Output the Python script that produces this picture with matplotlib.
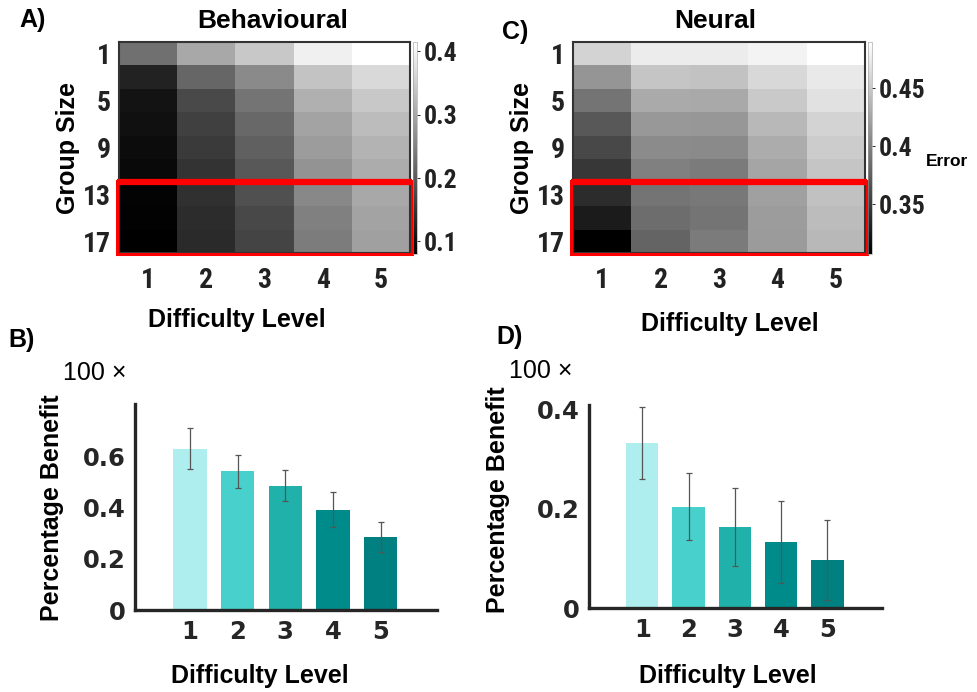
import numpy as np
import matplotlib
matplotlib.use("Agg")
import matplotlib.pyplot as plt
from matplotlib.patches import Rectangle
from matplotlib.colors import Normalize
from matplotlib import font_manager as fm
import matplotlib.cm as cm

# ---------------- data ----------------
group_sizes = [1, 3, 5, 7, 9, 11, 13, 15, 17]
group_tick_labels = ["1", "5", "9", "13", "17"]
difficulty = [1, 2, 3, 4, 5]

behav_error = np.array([
    [0.227, 0.301, 0.343, 0.395, 0.415],
    [0.125, 0.214, 0.261, 0.337, 0.364],
    [0.106, 0.177, 0.232, 0.311, 0.343],
    [0.101, 0.164, 0.217, 0.295, 0.327],
    [0.096, 0.156, 0.206, 0.285, 0.316],
    [0.093, 0.148, 0.196, 0.274, 0.306],
    [0.085, 0.143, 0.185, 0.259, 0.301],
    [0.083, 0.138, 0.175, 0.248, 0.295],
    [0.080, 0.135, 0.169, 0.243, 0.290],
])
behav_cbar_ticks = [0.1, 0.2, 0.3, 0.4]
behav_range = (0.08, 0.415)

neural_error = np.array([
    [0.459, 0.476, 0.476, 0.481, 0.490],
    [0.414, 0.448, 0.446, 0.462, 0.474],
    [0.390, 0.429, 0.428, 0.451, 0.468],
    [0.370, 0.416, 0.415, 0.439, 0.459],
    [0.359, 0.407, 0.406, 0.430, 0.453],
    [0.347, 0.399, 0.395, 0.425, 0.448],
    [0.339, 0.390, 0.393, 0.422, 0.445],
    [0.327, 0.385, 0.390, 0.419, 0.442],
    [0.307, 0.379, 0.395, 0.418, 0.439],
])
neural_cbar_ticks = [0.35, 0.4, 0.45]
neural_range = (0.307, 0.49)

behav_benefit = [0.631, 0.542, 0.487, 0.392, 0.286]
behav_benefit_err = [0.080, 0.066, 0.062, 0.069, 0.060]
neural_benefit = [0.333, 0.205, 0.164, 0.133, 0.097]
neural_benefit_err = [0.072, 0.067, 0.079, 0.083, 0.081]

bar_colors = ["#afeeee", "#48d1cc", "#20b2aa", "#008b8b", "#008080"]

# ---------------- fonts ----------------
arial = ["Liberation Sans", "DejaVu Sans"]
_names = {f.name for f in fm.fontManager.ttflist}
cond_kw = None
for c in ["Liberation Sans Narrow", "Arial Narrow", "Nimbus Sans Narrow",
          "Roboto Condensed", "Open Sans Condensed"]:
    if c in _names:
        cond_kw = dict(family=[c, "DejaVu Sans"])
        break
if cond_kw is None:
    if any(f.name == "DejaVu Sans" and "condensed" in str(f.stretch)
           for f in fm.fontManager.ttflist):
        cond_kw = dict(family=["DejaVu Sans"], stretch="condensed")
    else:
        cond_kw = dict(family=arial)

# ---------------- figure ----------------
W, H = 977, 692
fig = plt.figure(figsize=(W / 100, H / 100), dpi=100)


def fr(x0, y0, x1, y1):
    """pixel box -> figure fraction rect"""
    return [x0 / W, 1 - y1 / H, (x1 - x0) / W, (y1 - y0) / H]


def style_cond(lab):
    lab.set_family(cond_kw["family"])
    if "stretch" in cond_kw:
        lab.set_stretch(cond_kw["stretch"])
    lab.set_fontweight("bold")
    lab.set_color("#222222")


def heatmap(box, cbox, data, rng, cticks, title, title_pos, ylab_x, xlab_pos):
    ax = fig.add_axes(fr(*box))
    ax.imshow(data, cmap="gray", vmin=rng[0], vmax=rng[1], aspect="auto",
              interpolation="nearest", extent=(0.5, 5.5, 18, 0))
    ax.set_xlim(0.5, 5.5)
    ax.set_ylim(18, 0)
    ax.set_xticks(difficulty)
    ax.set_xticklabels([str(d) for d in difficulty])
    ax.set_yticks([1, 5, 9, 13, 17])
    ax.set_yticklabels(group_tick_labels)
    ax.tick_params(length=0, pad=10, labelsize=20)
    ax.tick_params(axis="y", pad=6)
    for lab in ax.get_xticklabels() + ax.get_yticklabels():
        style_cond(lab)
    for s in ax.spines.values():
        s.set_linewidth(1.5)
        s.set_color("#333333")
    fig.text(title_pos[0] / W, 1 - title_pos[1] / H, title, ha="center",
             va="center", fontsize=19, fontweight="bold", family=arial)
    # red highlight box (group sizes 13-17)
    ax.add_patch(Rectangle((0.47, 11.85), 5.06, 6.25, fill=False, ec="#ff0000",
                           lw=2.2, clip_on=False, zorder=5))
    ax.plot([0.47, 5.53], [11.95, 11.95], color="#ff0000", lw=4.5,
            clip_on=False, zorder=6, solid_capstyle="butt")
    # colorbar
    cax = fig.add_axes(fr(*cbox))
    cb = fig.colorbar(cm.ScalarMappable(norm=Normalize(*rng), cmap="gray"),
                      cax=cax)
    cb.outline.set_linewidth(0.4)
    cb.outline.set_edgecolor("#999999")
    cb.set_ticks(cticks)
    cb.set_ticklabels([f"{t:g}" for t in cticks])
    cax.tick_params(length=2, width=0.6, pad=3, labelsize=18.5)
    for lab in cax.get_yticklabels():
        style_cond(lab)
    fig.text(ylab_x / W, 1 - (box[1] + box[3]) / 2 / H, "Group Size",
             rotation=90, ha="center", va="center", fontsize=18,
             fontweight="bold", family=arial)
    fig.text(xlab_pos[0] / W, 1 - xlab_pos[1] / H, "Difficulty Level",
             ha="center", va="center", fontsize=18, fontweight="bold",
             family=arial)
    return ax, cax


heatmap((119, 42, 410, 253), (413, 42, 417, 254), behav_error, behav_range,
        behav_cbar_ticks, "Behavioural", (273, 21), 68, (237, 320))
heatmap((573, 42, 865, 253), (868, 42, 872, 254), neural_error, neural_range,
        neural_cbar_ticks, "Neural", (715, 21), 522, (730, 324))
fig.text(947 / W, 1 - 161 / H, "Error", ha="center", va="center",
         fontsize=12.5, fontweight="bold", family=arial)


def barpanel(box, vals, errs, ylim, yticks, ylab_pos, hundred_pos, xlab_pos):
    ax = fig.add_axes(fr(*box))
    ax.bar(difficulty, vals, width=0.7, color=bar_colors, zorder=2)
    ax.errorbar(difficulty, vals, yerr=errs, fmt="none", ecolor="#555555",
                elinewidth=0.9, capsize=2.5, capthick=0.9, zorder=3)
    ax.set_xlim(-0.15, 6.18)
    ax.set_ylim(*ylim)
    ax.set_xticks(difficulty)
    ax.set_yticks(yticks)
    ax.set_yticklabels(["0" if t == 0 else f"{t:g}" for t in yticks])
    ax.tick_params(length=0, labelsize=17.5, pad=7)
    for lab in ax.get_xticklabels() + ax.get_yticklabels():
        lab.set_fontweight("bold")
        lab.set_color("#262626")
    for side in ["top", "right"]:
        ax.spines[side].set_visible(False)
    for side in ["left", "bottom"]:
        ax.spines[side].set_linewidth(2.4)
        ax.spines[side].set_color("#262626")
    fig.text(ylab_pos[0] / W, 1 - ylab_pos[1] / H,
             "Percentage Benefit", rotation=90, ha="center", va="center",
             fontsize=18, fontweight="bold", family=arial)
    fig.text(hundred_pos[0] / W, 1 - hundred_pos[1] / H, "100 ×",
             ha="left", va="center", fontsize=18, family=arial)
    fig.text(xlab_pos[0] / W, 1 - xlab_pos[1] / H, "Difficulty Level",
             ha="center", va="center", fontsize=18, fontweight="bold",
             family=arial)
    return ax


barpanel((135, 404, 437, 610), behav_benefit, behav_benefit_err, (0, 0.806),
         [0, 0.2, 0.4, 0.6], (52, 508), (63, 373), (260, 676))
barpanel((589, 405, 882, 608), neural_benefit, neural_benefit_err, (0, 0.41),
         [0, 0.2, 0.4], (498, 500), (509, 371), (728, 676))

# panel letters
for txt, x, y in [("A)", 33, 20), ("C)", 515, 32), ("B)", 22, 340),
                  ("D)", 510, 337)]:
    fig.text(x / W, 1 - y / H, txt, ha="center", va="center", fontsize=18,
             fontweight="bold", family=arial)

fig.savefig("out.png", dpi=100)
